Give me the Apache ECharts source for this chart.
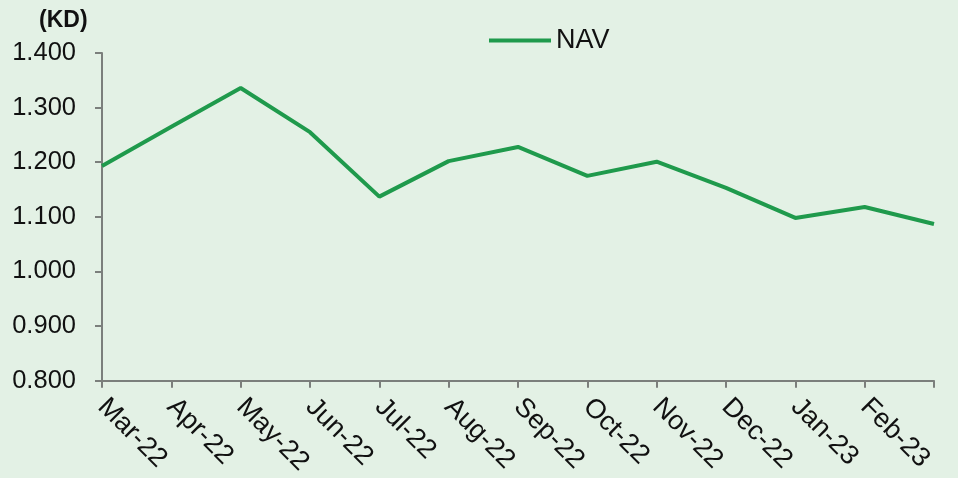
<!DOCTYPE html>
<html>
<head>
<meta charset="utf-8">
<script src="https://cdn.jsdelivr.net/npm/echarts@6/dist/echarts.min.js"></script>
<style>
html,body{margin:0;padding:0;background:#e3f1e5;}
#c{width:958px;height:478px;}
</style>
</head>
<body>
<div id="c"></div>
<script>
const categories = ['Mar-22','Apr-22','May-22','Jun-22','Jul-22','Aug-22','Sep-22','Oct-22','Nov-22','Dec-22','Jan-23','Feb-23',''];
const navValues = [1.193, 1.265, 1.336, 1.255, 1.137, 1.202, 1.228, 1.175, 1.201, 1.153, 1.098, 1.118, 1.087];
const seriesName = 'NAV';
const unitLabel = '(KD)';
const yMin = 0.8, yMax = 1.4, yStep = 0.1;

const chart = echarts.init(document.getElementById('c'));
const axisColor = '#7b7f7c';
chart.setOption({
  backgroundColor: '#e3f1e5',
  animation: false,
  textStyle: { fontFamily: 'Liberation Sans, Arial, sans-serif', color: '#111' },
  title: {
    text: unitLabel, left: 34, top: 4,
    textStyle: { fontSize: 23, fontWeight: 'bold', color: '#111', fontFamily: 'Liberation Sans, Arial, sans-serif' }
  },
  legend: {
    data: [seriesName], left: 484, top: 22,
    icon: 'rect', itemWidth: 62, itemHeight: 4, itemGap: 6,
    textStyle: { fontSize: 27, color: '#111', padding: [0, 0, 0, 0] }
  },
  grid: { left: 102, right: 24, top: 53, bottom: 97, containLabel: false },
  xAxis: {
    type: 'category', data: categories, boundaryGap: false,
    axisLine: { lineStyle: { color: axisColor, width: 2 } },
    axisTick: { show: true, length: 7, alignWithLabel: true, lineStyle: { color: axisColor, width: 2 } },
    axisLabel: { rotate: -45, fontSize: 27, color: '#111', margin: 22, interval: 0 },
    splitLine: { show: false }
  },
  yAxis: {
    type: 'value', min: yMin, max: yMax, interval: yStep,
    axisLine: { show: true, lineStyle: { color: axisColor, width: 2 } },
    axisTick: { show: true, length: 7, lineStyle: { color: axisColor, width: 2 } },
    axisLabel: { fontSize: 25.5, color: '#111', margin: 26, formatter: v => v.toFixed(3) },
    splitLine: { show: false }
  },
  series: [{
    name: seriesName, type: 'line', data: navValues,
    symbol: 'none', showSymbol: false,
    lineStyle: { color: '#1f9a4c', width: 4 },
    itemStyle: { color: '#1f9a4c' }
  }]
});
</script>
</body>
</html>
